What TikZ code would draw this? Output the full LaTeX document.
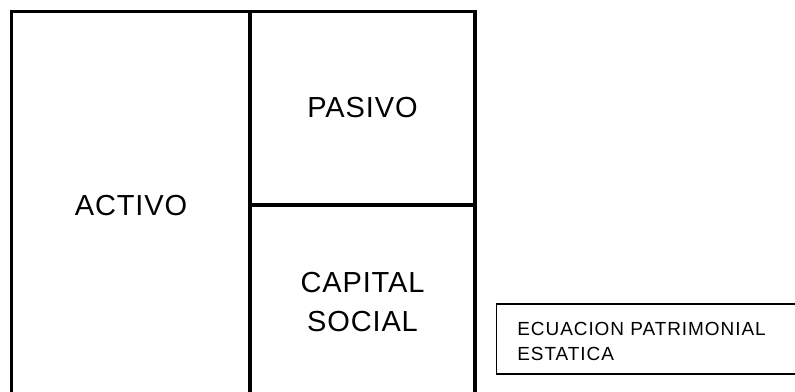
\documentclass[tikz,border=0pt]{standalone}
\usepackage{fontspec}
\setmainfont{Liberation Sans}
\begin{document}
\begin{tikzpicture}[x=0.02cm, y=-0.02cm,
	bigtext/.style={align=center, inner sep=0pt, font=\fontsize{16.5}{22.2}\selectfont\addfontfeature{LetterSpace=3}},
	smalltext/.style={align=left, inner sep=0pt, anchor=west, font=\fontsize{10.8}{14.2}\selectfont\addfontfeature{LetterSpace=5}}]
	\useasboundingbox (0,0) rectangle (795,392);
	
	% balance frame
	\draw [line width=1.9pt] (11.5,400) -- (11.5,11.5) -- (475,11.5) -- (475,400);
	\draw [line width=1.9pt] (250,11.5) -- (250,400);
	\draw [line width=1.9pt] (250,205) -- (475,205);
	
	% caption box
	\draw [line width=0.9pt] (805,304) -- (496.5,304) -- (496.5,374) -- (805,374);
	
	\node [bigtext] (activo) at (131, 205.5) {ACTIVO};
	\node [bigtext] (pasivo) at (362.5, 108) {PASIVO};
	\node [bigtext] (capital) at (362.5, 302.5) {CAPITAL\\SOCIAL};
	
	\node [smalltext] (ecuacion) at (517, 341.5) {ECUACION PATRIMONIAL\\ESTATICA};
	
\end{tikzpicture}
\end{document}
